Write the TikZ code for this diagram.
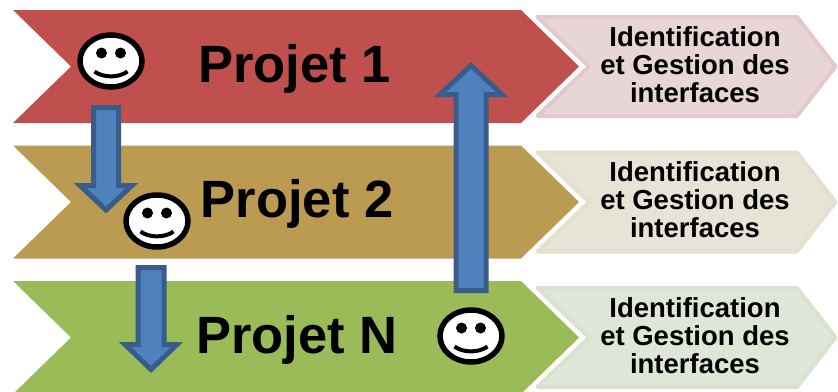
\documentclass[tikz,border=0pt]{standalone}
\usepackage{fontspec}
\usetikzlibrary{shapes.geometric}
\setmainfont{Liberation Sans}
\definecolor{redband}{HTML}{C0504D}
\definecolor{tanband}{HTML}{BB9A52}
\definecolor{greenband}{HTML}{9BBB59}
\definecolor{redlight}{HTML}{E8D5D6}
\definecolor{redline}{HTML}{E3C9CB}
\definecolor{tanlight}{HTML}{E7E4D7}
\definecolor{tanline}{HTML}{E3E0CF}
\definecolor{greenlight}{HTML}{DFE6D8}
\definecolor{greenline}{HTML}{D8E2CF}
\definecolor{arrowfill}{HTML}{4F81BD}
\definecolor{arrowline}{HTML}{385D8A}
\tikzstyle{projet}=[font=\fontsize{52.5}{52.5}\selectfont\bfseries,
                    anchor=base,inner sep=0pt]
\tikzstyle{interf}=[font=\fontsize{27.5}{28}\selectfont\bfseries,
                    align=center,inner sep=0pt]
\tikzstyle{bloc}=[draw=arrowline,fill=arrowfill,line width=5pt,
                  line join=miter]
\tikzstyle{visage}=[ellipse,draw=black,fill=white,line width=5.5pt,
                    inner sep=0pt,minimum width=62pt,minimum height=52pt]
\begin{document}
\begin{tikzpicture}[x=1pt,y=-1pt]
    \newcommand{\bande}[2]{%
      \fill[#1] (13,#2) -- (521,#2) -- (579,#2+56.5) -- (521,#2+113)
        -- (13,#2+113) -- (71,#2+56.5) -- cycle;}
    \newcommand{\fleche}[3]{%
      \draw[draw=#1,fill=#3,line width=4pt,line join=round]
        (537.5,#2+2) -- (797,#2+2) -- (835.5,#2+51.5) -- (797,#2+101)
        -- (537.5,#2+101) -- (589,#2+51.5) -- cycle;}
    \newcommand{\smiley}[3]{%
      \node (#1) at (#2,#3) [visage]{};
      \fill (#2-9.5,#3-8) circle (5.5pt);
      \fill (#2+9.5,#3-8) circle (5.5pt);
      \draw[line width=4pt] (#2-16.5,#3+10.5) .. controls (#2-8,#3+17)
        and (#2+8,#3+17) .. (#2+16.5,#3+10.5);}
    \clip (0,0) rectangle (838,391);
    % bandes
    \bande{redband}{10}
    \bande{tanband}{145.5}
    \bande{greenband}{281}
    \fleche{redline}{15}{redlight}
    \fleche{tanline}{150.5}{tanlight}
    \fleche{greenline}{286}{greenlight}
    % textes
    \node (p1) at (294.5,82) [projet]{Projet 1};
    \node (p2) at (297,217) [projet]{Projet 2};
    \node (pn) at (297,353) [projet]{Projet N};
    \node (i1) at (695,65) [interf]{Identification\\et Gestion des\\interfaces};
    \node (i2) at (695,200) [interf]{Identification\\et Gestion des\\interfaces};
    \node (in) at (695,336) [interf]{Identification\\et Gestion des\\interfaces};
    % visages
    \smiley{s1}{111}{61}
    \smiley{s2}{157}{221}
    \smiley{sn}{471}{336}
    % fleches bleues
    \draw[bloc] (93.5,107.5) -- (118.5,107.5) -- (118.5,185.5) -- (132,185.5)
      -- (106,210) -- (80,185.5) -- (93.5,185.5) -- cycle;
    \draw[bloc] (138,267.5) -- (164,267.5) -- (164,344.5) -- (177,344.5)
      -- (151,369.5) -- (125,344.5) -- (138,344.5) -- cycle;
    \draw[bloc] (456,290.5) -- (486,290.5) -- (486,94.5) -- (502,94.5)
      -- (471,65.5) -- (440,94.5) -- (456,94.5) -- cycle;
  \end{tikzpicture}
\end{document}
